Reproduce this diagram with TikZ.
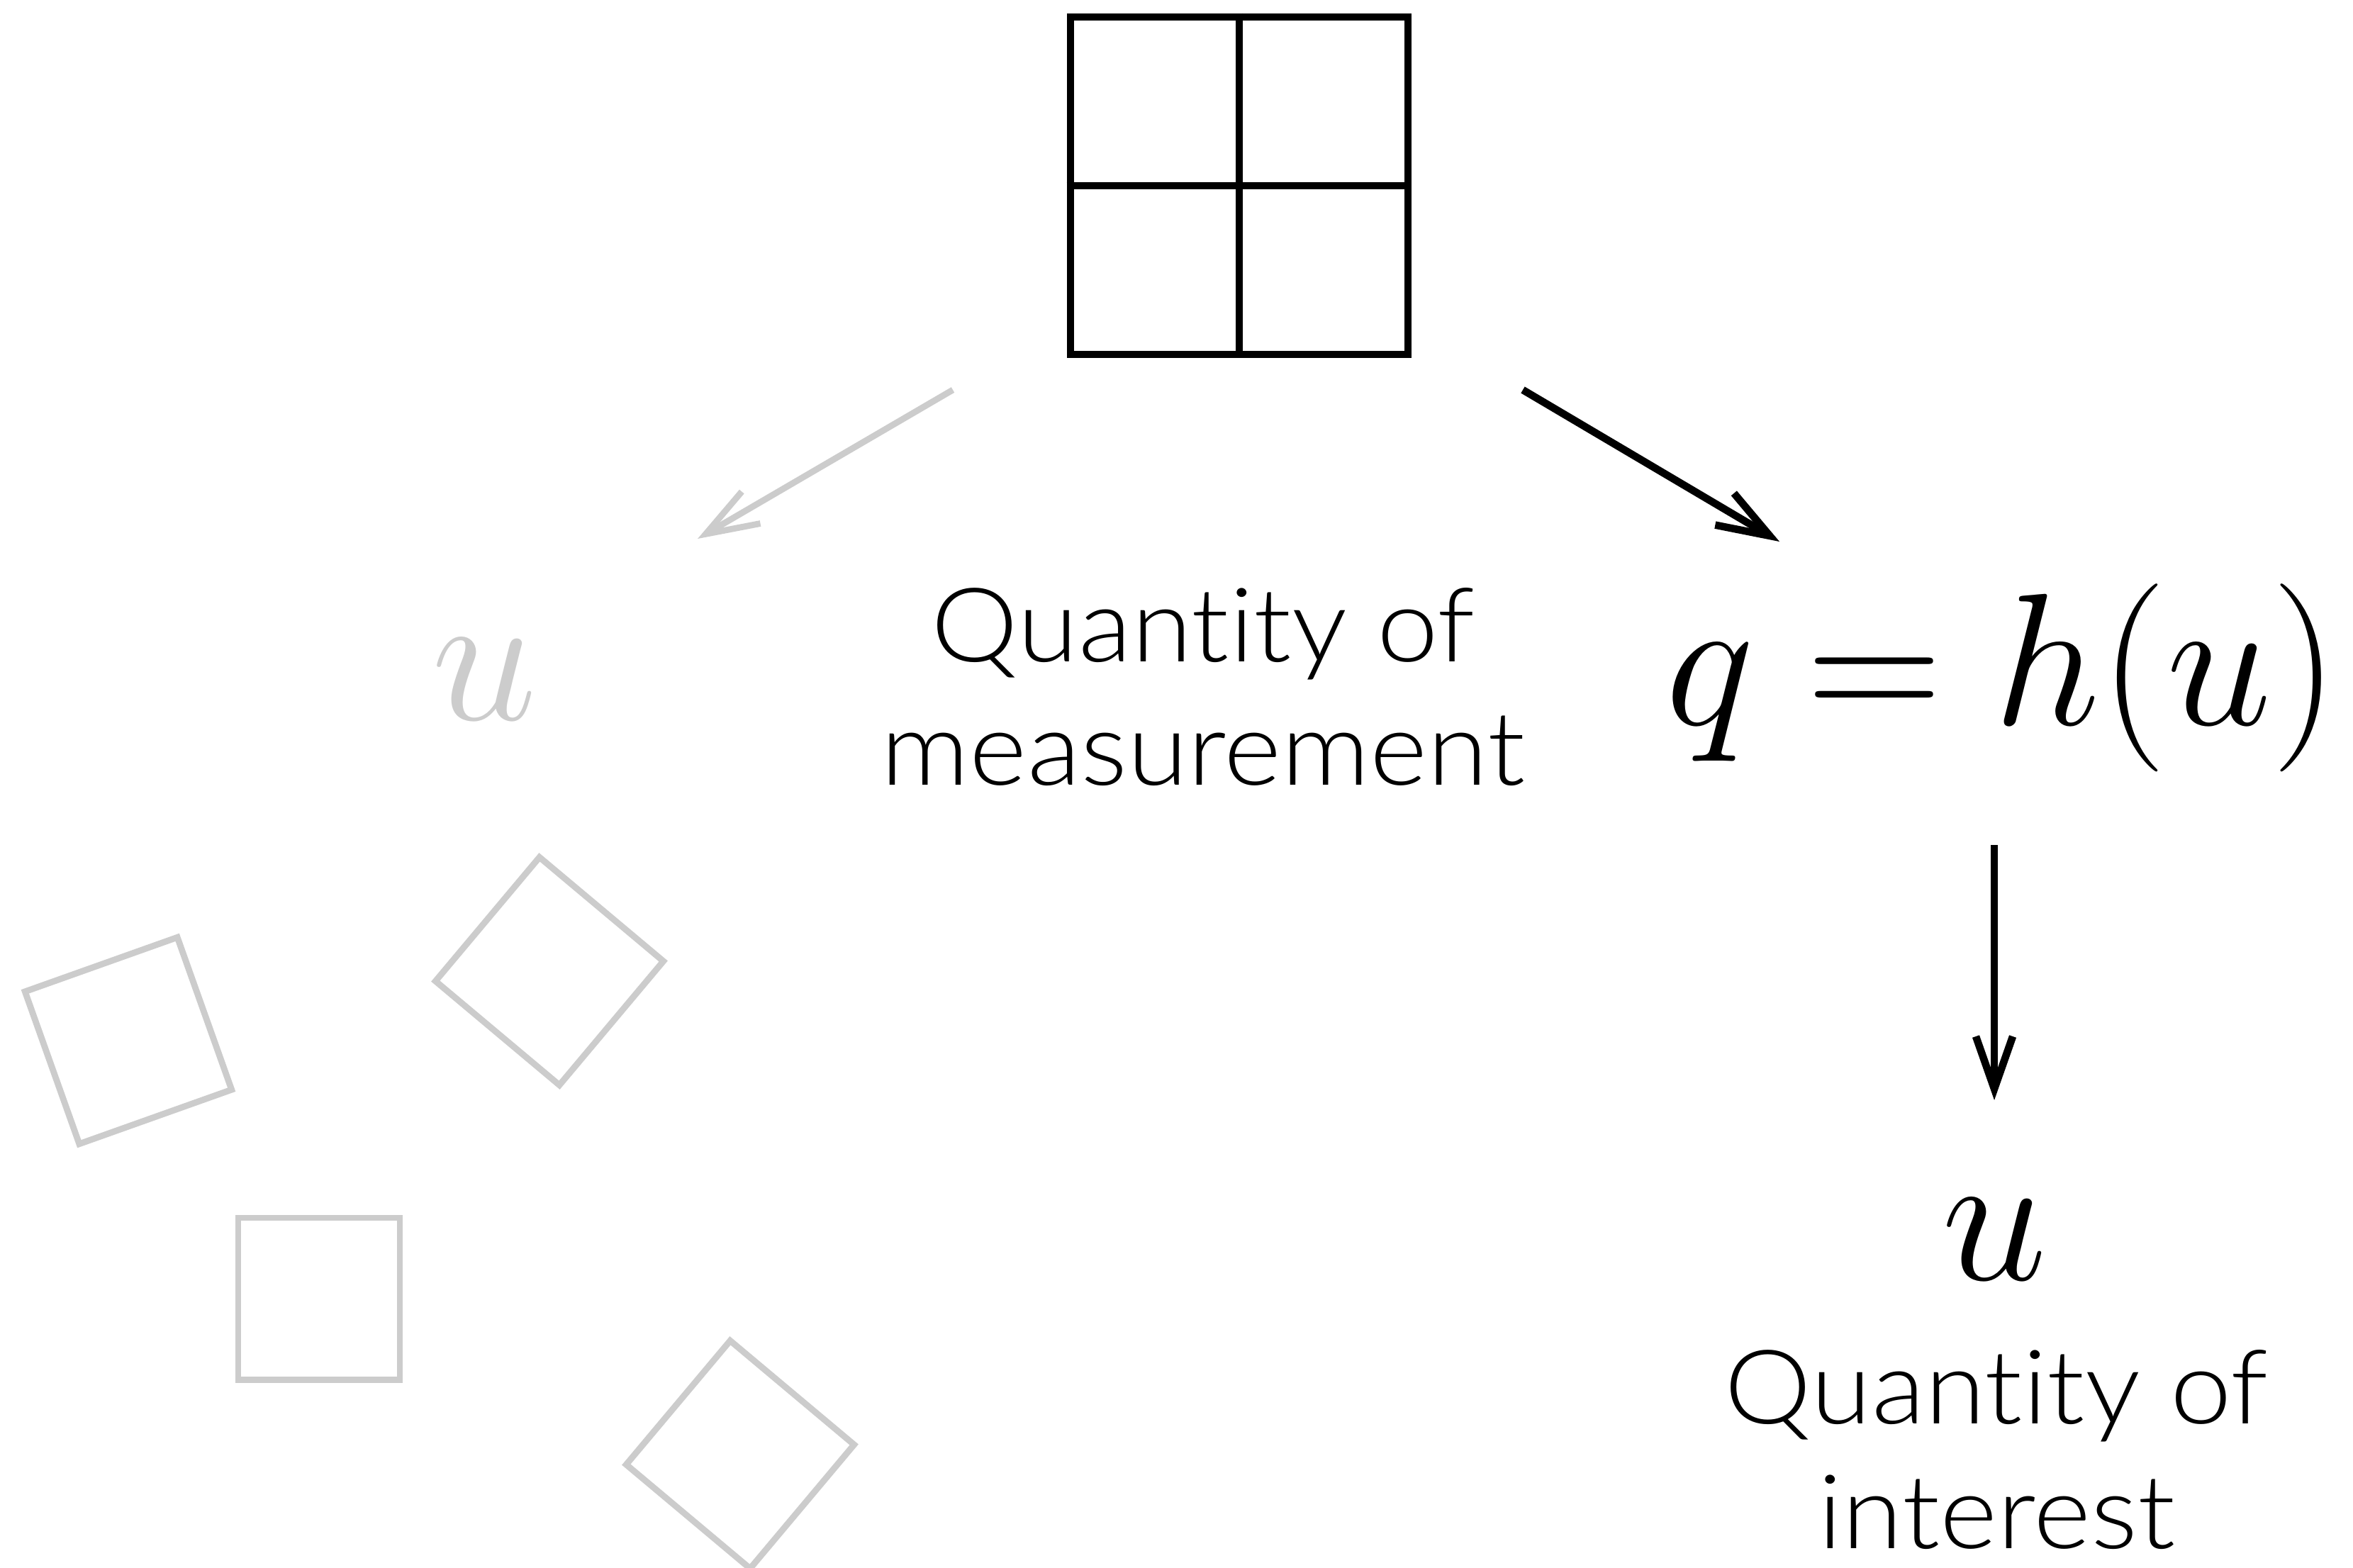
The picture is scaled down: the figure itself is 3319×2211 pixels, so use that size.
\documentclass[tikz,border=0pt]{standalone}
\usepackage{fix-cm}
\usepackage[no-math]{fontspec}
\setmainfont{Lato Light}[Ligatures=NoCommon, FakeStretch=1.07]
\usetikzlibrary{arrows.meta}
\definecolor{lg}{HTML}{CCCCCC}
\begin{document}
\begin{tikzpicture}[x=0.01cm,y=-0.01cm,
  blk/.style={line width=3pt,draw=black},
  gry/.style={line width=2.5pt,draw=lg},
  barb/.style={-{Straight Barb[length=0.74cm,width=0.52cm]}},
  lbl/.style={font=\fontsize{41.3pt}{49pt}\selectfont, anchor=base, inner sep=0pt},
  mth/.style={font=\fontsize{75.5pt}{90pt}\selectfont, anchor=base, inner sep=0pt},
  sq/.style={gry, draw, minimum size=2.28cm, inner sep=0pt}]
\useasboundingbox (0,0) rectangle (3319,2211);
\fill[white] (0,0) rectangle (3319,2211);
% grid
\node[draw, blk, minimum size=4.76cm, inner sep=0pt] (grid) at (1748,262) {};
\draw[blk] (grid.north) -- (grid.south);
\draw[blk] (grid.west) -- (grid.east);
% gray squares
\node[sq, rotate=19.6] (sa) at (181,1468) {};
\node[sq, rotate=50] (sb) at (775,1370) {};
\node[sq] (sc) at (450,1832) {};
\node[sq, rotate=50] (sd) at (1044,2052) {};
% texts
\node[mth, text=lg] (ug) at (683,1015) {$u$};
\node[lbl] (m1) at (1697,933) {Quantity of};
\node[lbl] (m2) at (1697,1107) {measurement};
\node[mth] (eq) at (2824,1022) {$q = h(u)$};
\node[mth] (ub) at (2813,1805) {$u$};
\node[lbl] (i1) at (2816,2008) {Quantity of};
\node[lbl] (i2) at (2816,2184) {interest};
% arrow endpoints
\coordinate (gs) at (1344,550); \coordinate (ge) at (984,760);
\coordinate (bs) at (2148,550); \coordinate (be) at (2510,764);
\coordinate (vs) at (2813,1192); \coordinate (ve) at (2813,1552);
\draw[gry, barb] (gs) -- (ge);
\draw[blk, barb] (bs) -- (be);
\draw[blk, barb] (vs) -- (ve);
\end{tikzpicture}
\end{document}
